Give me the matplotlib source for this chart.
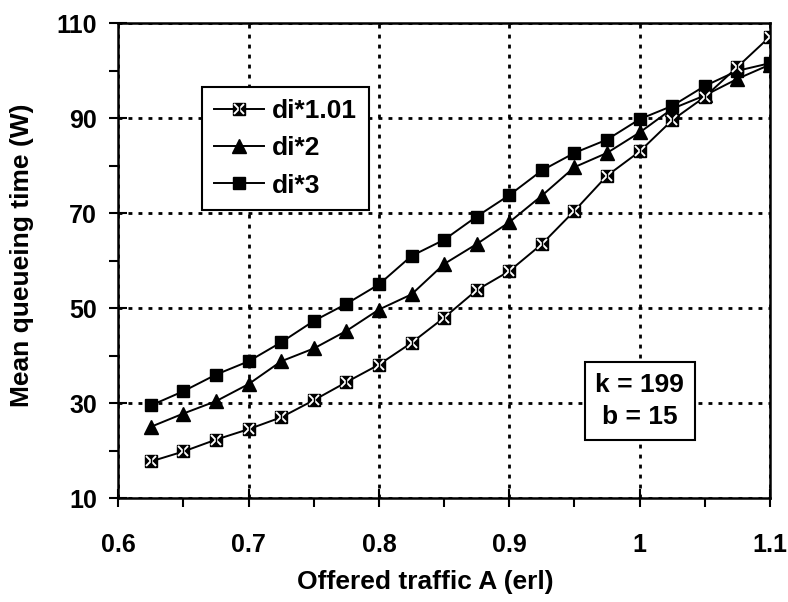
import matplotlib
matplotlib.use("Agg")
import matplotlib.pyplot as plt
from matplotlib.legend_handler import HandlerTuple
from matplotlib.ticker import MultipleLocator

plt.rcParams['font.family'] = ['Liberation Sans', 'DejaVu Sans']
plt.rcParams['font.weight'] = 'bold'

# data
traffic = [0.625, 0.65, 0.675, 0.7, 0.725, 0.75, 0.775, 0.8, 0.825, 0.85,
           0.875, 0.9, 0.925, 0.95, 0.975, 1.0, 1.025, 1.05, 1.075, 1.1]
di_101 = [17.7, 19.8, 22.3, 24.5, 27.0, 30.6, 34.4, 38.1, 42.7, 48.0,
          53.8, 57.8, 63.5, 70.5, 77.9, 83.0, 89.6, 94.5, 100.8, 107.2]
di_2 = [25.0, 27.8, 30.4, 34.0, 38.8, 41.5, 45.2, 49.7, 52.9, 59.3,
        63.5, 68.1, 73.7, 79.7, 82.7, 87.0, 92.0, 94.8, 98.3, 101.3]
di_3 = [29.5, 32.5, 36.0, 38.8, 42.8, 47.3, 50.9, 55.0, 61.0, 64.4,
        69.3, 73.8, 79.0, 82.7, 85.5, 89.8, 92.6, 96.8, 100.0, 101.6]
series_names = ['di*1.01', 'di*2', 'di*3']
x_ticks = [0.6, 0.7, 0.8, 0.9, 1.0, 1.1]
x_tick_labels = ['0.6', '0.7', '0.8', '0.9', '1', '1.1']
y_ticks = [10, 30, 50, 70, 90, 110]
note = 'k = 199\nb = 15'

fig = plt.figure(figsize=(7.88, 6.02), dpi=100)
ax = fig.add_axes([118.3/788, 1-498/602, (770-118.3)/788, (498-23.3)/602])

FS = 18
ms = 9
# di*2 and di*3
l2, = ax.plot(traffic, di_2, color='black', lw=1.4, marker='^', ms=ms+0.5,
              mfc='black', mec='black', zorder=3)
l3, = ax.plot(traffic, di_3, color='black', lw=1.4, marker='s', ms=ms,
              mfc='black', mec='black', zorder=3)
# di*1.01 : black square with white X and black vertical bar
l1a, = ax.plot(traffic, di_101, color='black', lw=1.4, marker='s', ms=ms,
               mfc='black', mec='black', zorder=4)
l1b, = ax.plot(traffic, di_101, ls='none', marker='x', ms=ms-2.5, mew=1.4,
               mec='white', zorder=5)
l1c, = ax.plot(traffic, di_101, ls='none', marker='|', ms=ms-2, mew=1.0,
               mec='black', zorder=6)

ax.set_xlim(0.6, 1.1)
ax.set_ylim(10, 110)
ax.set_xticks(x_ticks)
ax.set_xticklabels(x_tick_labels)
ax.set_yticks(y_ticks)
ax.xaxis.set_minor_locator(MultipleLocator(0.05))
ax.yaxis.set_minor_locator(MultipleLocator(10))

ax.grid(True, which='major', color='black', lw=2.0, ls=(0, (1.4, 2.2)))
ax.set_axisbelow(True)

for s in ax.spines.values():
    s.set_linewidth(1.8)
    s.set_color('black')

ax.tick_params(which='major', direction='inout', length=13, width=1.5,
               labelsize=FS, color='black')
ax.tick_params(axis='x', which='major', pad=19)
ax.tick_params(axis='y', which='major', pad=9)
ax.tick_params(which='minor', direction='out', length=6.5, width=1.5)
for lab in ax.get_xticklabels() + ax.get_yticklabels():
    lab.set_fontweight('bold')

fig.text(22/788, 1-255/602, 'Mean queueing time (W)', rotation=90,
         ha='center', va='center', fontsize=FS+1, fontweight='bold')
fig.text(425/788, 1-582/602, 'Offered traffic A (erl)',
         ha='center', va='center', fontsize=FS+1, fontweight='bold')

handles = [(l1a, l1b, l1c), l2, l3]
leg = ax.legend(handles, series_names, loc='upper left',
                bbox_to_anchor=(0.128, 0.865), fontsize=FS + 1,
                handler_map={tuple: HandlerTuple(ndivide=1)},
                handlelength=1.9, handletextpad=0.3, labelspacing=0.5,
                borderpad=0.45, fancybox=False, framealpha=1,
                edgecolor='black', borderaxespad=0)
leg.get_frame().set_linewidth(1.5)
for t in leg.get_texts():
    t.set_fontweight('bold')

ax.text(1.0, 30.4, note, ha='center', va='center', fontsize=FS + 1,
        fontweight='bold', linespacing=1.45, zorder=7,
        bbox=dict(boxstyle='square,pad=0.4', fc='white', ec='black', lw=1.5))

fig.savefig('out.png', dpi=100)
